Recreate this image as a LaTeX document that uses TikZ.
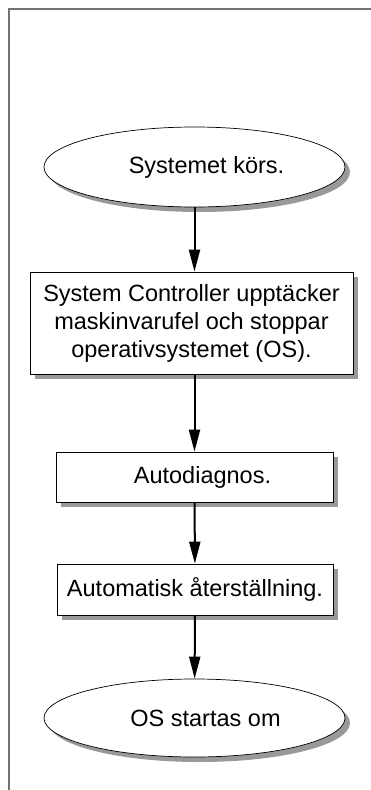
\documentclass[tikz,border=0pt]{standalone}
\usepackage{fontspec}
\setmainfont{Liberation Sans}
\usetikzlibrary{shapes.geometric,shadows,arrows.meta}

\begin{document}
\begin{tikzpicture}[x=1pt,y=-1pt,
  font=\fontsize{23.5}{28}\selectfont,
  shade/.style={drop shadow={shadow xshift=5pt,shadow yshift=-5pt,fill=black!40,opacity=1}},
  oval/.style={ellipse,draw,line width=0.7pt,fill=white,shade,inner sep=0pt,minimum width=301pt,minimum height=80pt},
  box/.style={rectangle,draw,line width=0.7pt,fill=white,shade,inner sep=0pt,align=center},
  flow/.style={line width=2pt,-{Triangle[length=22pt,width=11pt]}}]
\useasboundingbox (0,0) rectangle (371,790);
\draw[black!55,line width=1.5pt] (9,790) -- (9,9) -- (371,9);

\node[oval] (run) at (194.5,167) {\hspace*{24pt}Systemet körs.};
\node[box,minimum width=323pt,minimum height=102pt] (sc) at (191.5,323)
  {System Controller upptäcker\\maskinvarufel och stoppar\\operativsystemet (OS).};
\node[box,minimum width=277pt,minimum height=50pt] (diag) at (194.5,477) {\hspace*{16pt}Autodiagnos.};
\node[box,minimum width=276pt,minimum height=51pt] (rec) at (195,589.5) {Automatisk återställning.};
\node[oval,minimum height=78pt] (boot) at (194.5,718) {\hspace*{22pt}OS startas om};

\draw[flow] (run) -- (run |- sc.north);
\draw[flow] (sc.south -| run) -- (diag);
\draw[flow] (diag) -- (rec);
\draw[flow] (rec) -- (boot);
\end{tikzpicture}
\end{document}
